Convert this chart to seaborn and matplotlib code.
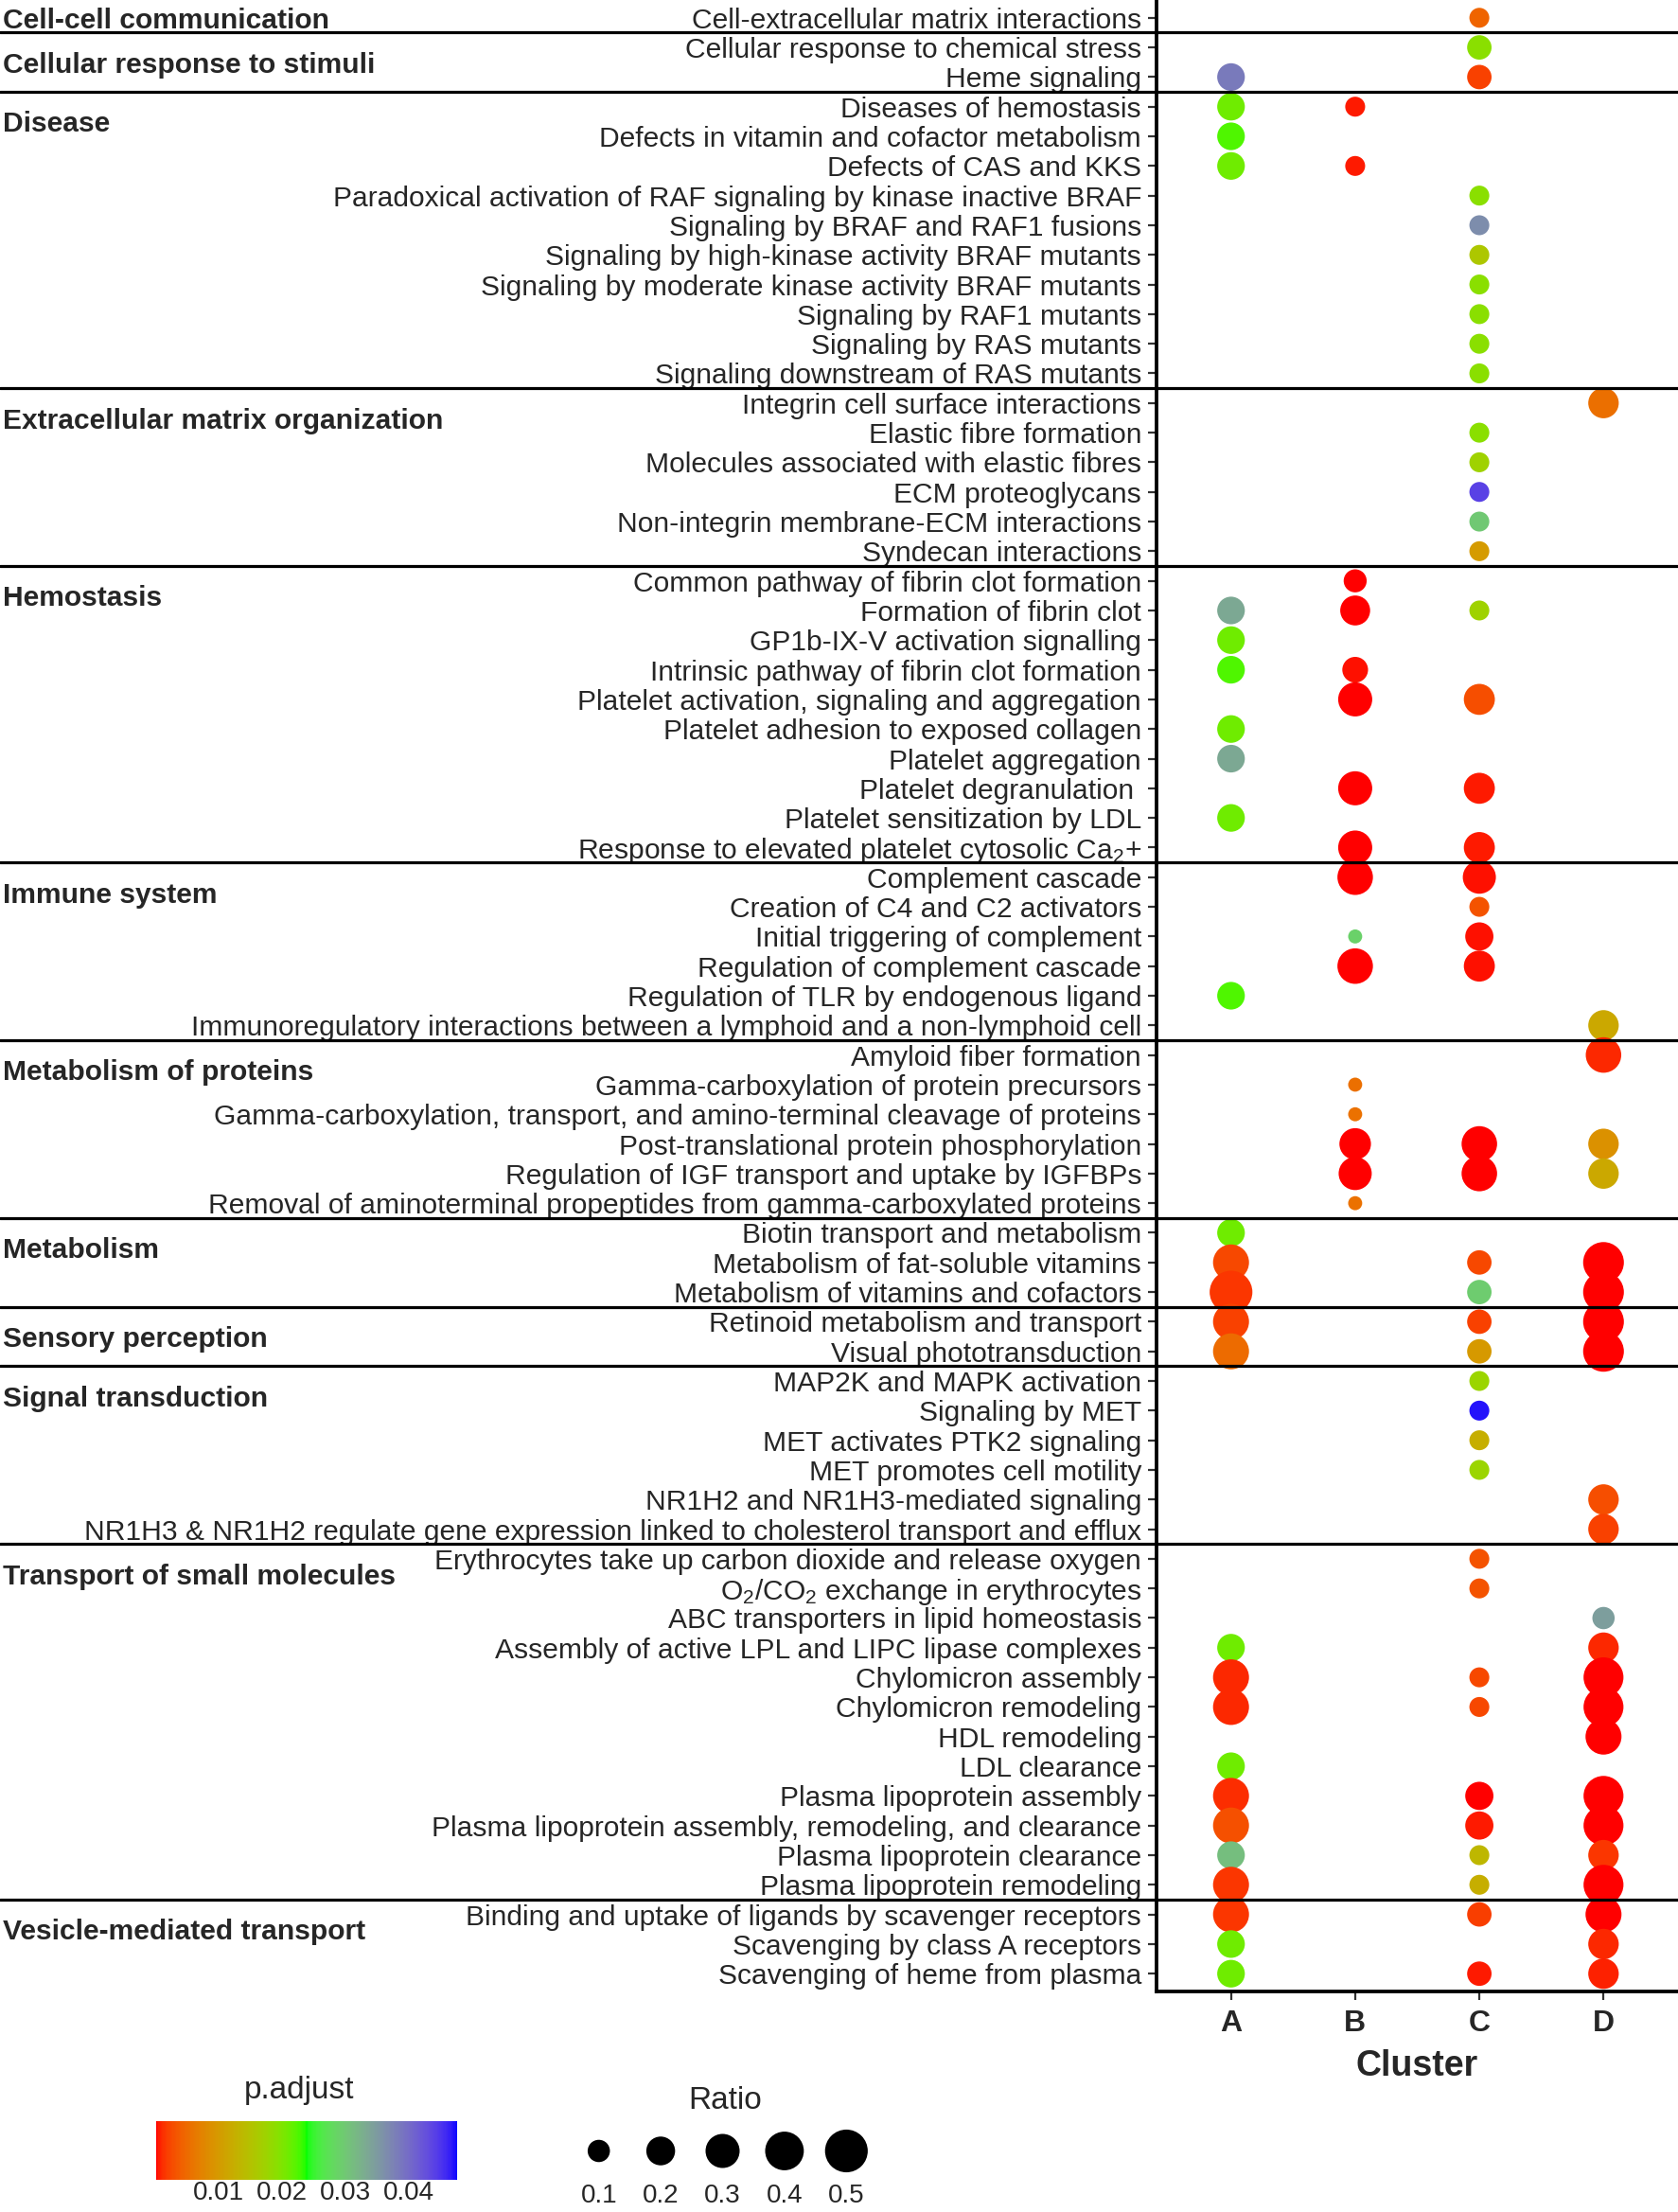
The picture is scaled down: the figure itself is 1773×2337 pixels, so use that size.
import numpy as np
import pandas as pd
import matplotlib
matplotlib.use("Agg")
import matplotlib.pyplot as plt
import seaborn as sns
from matplotlib.colors import ListedColormap, Normalize
from matplotlib.transforms import blended_transform_factory

# Reactome groups (top to bottom) and how many pathways each one holds
groups = ["Cell-cell communication", "Cellular response to stimuli", "Disease",
          "Extracellular matrix organization", "Hemostasis", "Immune system",
          "Metabolism of proteins", "Metabolism", "Sensory perception",
          "Signal transduction", "Transport of small molecules", "Vesicle-mediated transport"]
group_sizes = [1, 2, 10, 6, 10, 6, 6, 3, 2, 6, 12, 3]

pathways = [
    "Cell-extracellular matrix interactions",
    "Cellular response to chemical stress", "Heme signaling",
    "Diseases of hemostasis", "Defects in vitamin and cofactor metabolism", "Defects of CAS and KKS",
    "Paradoxical activation of RAF signaling by kinase inactive BRAF",
    "Signaling by BRAF and RAF1 fusions", "Signaling by high-kinase activity BRAF mutants",
    "Signaling by moderate kinase activity BRAF mutants", "Signaling by RAF1 mutants",
    "Signaling by RAS mutants", "Signaling downstream of RAS mutants",
    "Integrin cell surface interactions", "Elastic fibre formation",
    "Molecules associated with elastic fibres", "ECM proteoglycans",
    "Non-integrin membrane-ECM interactions", "Syndecan interactions",
    "Common pathway of fibrin clot formation", "Formation of fibrin clot",
    "GP1b-IX-V activation signalling", "Intrinsic pathway of fibrin clot formation",
    "Platelet activation, signaling and aggregation", "Platelet adhesion to exposed collagen",
    "Platelet aggregation", "Platelet degranulation ", "Platelet sensitization by LDL",
    "Response to elevated platelet cytosolic Ca$_2$+",
    "Complement cascade", "Creation of C4 and C2 activators", "Initial triggering of complement",
    "Regulation of complement cascade", "Regulation of TLR by endogenous ligand",
    "Immunoregulatory interactions between a lymphoid and a non-lymphoid cell",
    "Amyloid fiber formation", "Gamma-carboxylation of protein precursors",
    "Gamma-carboxylation, transport, and amino-terminal cleavage of proteins",
    "Post-translational protein phosphorylation",
    "Regulation of IGF transport and uptake by IGFBPs",
    "Removal of aminoterminal propeptides from gamma-carboxylated proteins",
    "Biotin transport and metabolism", "Metabolism of fat-soluble vitamins",
    "Metabolism of vitamins and cofactors",
    "Retinoid metabolism and transport", "Visual phototransduction",
    "MAP2K and MAPK activation", "Signaling by MET", "MET activates PTK2 signaling",
    "MET promotes cell motility", "NR1H2 and NR1H3-mediated signaling",
    "NR1H3 & NR1H2 regulate gene expression linked to cholesterol transport and efflux",
    "Erythrocytes take up carbon dioxide and release oxygen",
    "O$_2$/CO$_2$ exchange in erythrocytes", "ABC transporters in lipid homeostasis",
    "Assembly of active LPL and LIPC lipase complexes", "Chylomicron assembly",
    "Chylomicron remodeling", "HDL remodeling", "LDL clearance", "Plasma lipoprotein assembly",
    "Plasma lipoprotein assembly, remodeling, and clearance", "Plasma lipoprotein clearance",
    "Plasma lipoprotein remodeling",
    "Binding and uptake of ligands by scavenger receptors", "Scavenging by class A receptors",
    "Scavenging of heme from plasma",
]

clusters = ["A", "B", "C", "D"]
_ = None

# p.adjust per pathway, one list per cluster (None = not enriched)
padj_A = [_,
          _, 0.0384,
          0.021, 0.0224, 0.021, _, _, _, _, _, _, _,
          _, _, _, _, _, _,
          _, 0.0334, 0.021, 0.0224, _, 0.021, 0.0334, _, 0.021, _,
          _, _, _, _, 0.0224, _,
          _, _, _, _, _, _,
          0.021, 0.0025, 0.0015,
          0.002, 0.005,
          _, _, _, _, _, _,
          _, _, _, 0.021, 0.001, 0.001, _, 0.021, 0.0012, 0.003, 0.031, 0.0015,
          0.0015, 0.021, 0.021]
padj_B = [_,
          _, _,
          0.0006, _, 0.0006, _, _, _, _, _, _, _,
          _, _, _, _, _, _,
          0.0002, 0.0002, _, 0.0003, 0.0002, _, _, 0.0002, _, 0.0002,
          0.0002, _, 0.029, 0.0002, _, _,
          _, 0.0053, 0.0055, 0.0002, 0.0002, 0.0055,
          _, _, _,
          _, _,
          _, _, _, _, _, _,
          _, _, _, _, _, _, _, _, _, _, _, _,
          _, _, _]
padj_C = [0.0044,
          0.0191, 0.002,
          _, _, _, 0.0191, 0.0363, 0.0158, 0.0191, 0.0191, 0.0191, 0.0191,
          _, 0.0191, 0.0172, 0.044, 0.0298, 0.010,
          _, 0.0172, _, _, 0.0028, _, _, 0.0006, _, 0.0006,
          0.0003, 0.0032, 0.0003, 0.0004, _, _,
          _, _, _, 0.0002, 0.0002, _,
          _, 0.0025, 0.0296,
          0.002, 0.0098,
          0.0177, 0.0469, 0.0125, 0.0177, _, _,
          0.0032, 0.0032, _, _, 0.0025, 0.0025, _, _, 0.0002, 0.0006, 0.0135, 0.0125,
          0.0018, _, 0.0006]
padj_D = [_,
          _, _,
          _, _, _, _, _, _, _, _, _, _,
          0.0053, _, _, _, _, _,
          _, _, _, _, _, _, _, _, _, _,
          _, _, _, _, _, 0.0117,
          0.001, _, _, 0.009, 0.0117, _,
          _, 0.0002, 0.0002,
          0.0002, 0.0002,
          _, _, _, _, 0.0028, 0.002,
          _, _, 0.0346, 0.001, 0.0002, 0.0002, 0.0002, _, 0.0002, 0.0002, 0.0015, 0.0002,
          0.0002, 0.001, 0.0008]

# gene ratio per pathway
ratio_A = [_,
           _, 0.18,
           0.18, 0.18, 0.18, _, _, _, _, _, _, _,
           _, _, _, _, _, _,
           _, 0.18, 0.18, 0.18, _, 0.18, 0.18, _, 0.18, _,
           _, _, _, _, 0.18, _,
           _, _, _, _, _, _,
           0.18, 0.34, 0.50,
           0.34, 0.34,
           _, _, _, _, _, _,
           _, _, _, 0.18, 0.34, 0.34, _, 0.18, 0.34, 0.34, 0.18, 0.34,
           0.34, 0.18, 0.18]
ratio_B = [_,
           _, _,
           0.07, _, 0.07, _, _, _, _, _, _, _,
           _, _, _, _, _, _,
           0.11, 0.22, _, 0.15, 0.30, _, _, 0.30, _, 0.30,
           0.33, _, 0.01, 0.33, _, _,
           _, 0.01, 0.01, 0.25, 0.28, 0.01,
           _, _, _,
           _, _,
           _, _, _, _, _, _,
           _, _, _, _, _, _, _, _, _, _, _, _,
           _, _, _]
ratio_C = [0.07,
           0.13, 0.13,
           _, _, _, 0.07, 0.07, 0.07, 0.07, 0.07, 0.07, 0.07,
           _, 0.07, 0.07, 0.07, 0.07, 0.07,
           _, 0.07, _, _, 0.24, _, _, 0.24, _, 0.24,
           0.28, 0.07, 0.19, 0.24, _, _,
           _, _, _, 0.33, 0.33, _,
           _, 0.13, 0.13,
           0.13, 0.13,
           0.07, 0.07, 0.07, 0.07, _, _,
           0.07, 0.07, _, _, 0.07, 0.07, _, _, 0.19, 0.19, 0.07, 0.07,
           0.13, _, 0.13]
ratio_D = [_,
           _, _,
           _, _, _, _, _, _, _, _, _, _,
           0.23, _, _, _, _, _,
           _, _, _, _, _, _, _, _, _, _,
           _, _, _, _, _, 0.23,
           0.33, _, _, 0.23, 0.23, _,
           _, 0.45, 0.45,
           0.45, 0.45,
           _, _, _, _, 0.23, 0.23,
           _, _, 0.10, 0.23, 0.43, 0.43, 0.34, _, 0.43, 0.43, 0.23, 0.43,
           0.34, 0.23, 0.23]

padj_ticks = [0.01, 0.02, 0.03, 0.04]
ratio_breaks = [0.1, 0.2, 0.3, 0.4, 0.5]

# long table for seaborn
recs = []
for cl, pl, rl in zip(clusters, [padj_A, padj_B, padj_C, padj_D], [ratio_A, ratio_B, ratio_C, ratio_D]):
    for term, p, r in zip(pathways, pl, rl):
        if p is not None:
            recs.append({"Description": term, "Cluster": cl, "p.adjust": p, "Ratio": r})
df = pd.DataFrame(recs)
df["Description"] = pd.Categorical(df["Description"], categories=pathways)
df["Cluster"] = pd.Categorical(df["Cluster"], categories=clusters)


# red -> green -> blue gradient interpolated in CIE Lab (like ggplot's gradientn)
M = np.array([[0.4124564, 0.3575761, 0.1804375],
              [0.2126729, 0.7151522, 0.0721750],
              [0.0193339, 0.1191920, 0.9503041]])
WHITE = np.array([0.95047, 1.0, 1.08883])


def to_lab(rgb):
    rgb = np.asarray(rgb, float)
    lin = np.where(rgb <= 0.04045, rgb / 12.92, ((rgb + 0.055) / 1.055) ** 2.4)
    xyz = lin @ M.T / WHITE
    f = np.where(xyz > (6 / 29) ** 3, np.cbrt(xyz), xyz / (3 * (6 / 29) ** 2) + 4 / 29)
    return np.stack([116 * f[..., 1] - 16, 500 * (f[..., 0] - f[..., 1]),
                     200 * (f[..., 1] - f[..., 2])], -1)


def from_lab(lab):
    fy = (lab[..., 0] + 16) / 116
    f = np.stack([fy + lab[..., 1] / 500, fy, fy - lab[..., 2] / 200], -1)
    xyz = np.where(f > 6 / 29, f ** 3, 3 * (6 / 29) ** 2 * (f - 4 / 29)) * WHITE
    lin = np.clip(xyz @ np.linalg.inv(M).T, 0, 1)
    rgb = np.where(lin <= 0.0031308, 12.92 * lin, 1.055 * lin ** (1 / 2.4) - 0.055)
    return np.clip(rgb, 0, 1)


stops = to_lab([[1, 0, 0], [0, 1, 0], [0, 0, 1]])
t = np.linspace(0, 1, 256)
lab = np.stack([np.interp(t, [0, 0.5, 1], stops[:, k]) for k in range(3)], -1)
cmap = ListedColormap(from_lab(lab))
norm = Normalize(vmin=0.0001, vmax=0.0476)

size_range = (95, 1057)   # marker area (pt^2) for Ratio 0 .. 0.5
size_norm = (0, 0.5)

sns.set_theme(style="white")
plt.rcParams["font.family"] = ["Liberation Sans", "DejaVu Sans"]
plt.rcParams["mathtext.fontset"] = "custom"
plt.rcParams["mathtext.rm"] = "Liberation Sans"
plt.rcParams["mathtext.default"] = "regular"

W, H = 1773, 2337
fig = plt.figure(figsize=(W / 100, H / 100), dpi=100)
ax = fig.add_axes([1222 / W, 1 - 2104 / H, (W - 1222) / W, 2104 / H])

sns.scatterplot(data=df, x="Cluster", y="Description", hue="p.adjust", size="Ratio",
                palette=cmap, hue_norm=norm, sizes=size_range, size_norm=size_norm,
                linewidth=0, alpha=1, legend=False, ax=ax)

ax.set_xlim(-0.6, len(clusters) - 0.4)
ax.set_ylim(len(pathways) - 0.4, -0.6)
ax.set_ylabel("")
ax.set_xlabel("Cluster", fontsize=27, fontweight="bold", labelpad=9)
for s in ["top", "right"]:
    ax.spines[s].set_visible(False)
for s in ["left", "bottom"]:
    ax.spines[s].set_color("black")
    ax.spines[s].set_linewidth(2.7)
ax.tick_params(axis="y", length=6.5, width=1.6, color="#333333", pad=5, labelsize=21.6, left=True)
ax.tick_params(axis="x", length=6.5, width=1.6, color="#333333", pad=7, labelsize=23, bottom=True)
for lab_ in ax.get_xticklabels():
    lab_.set_fontweight("bold")

# group separators and group names across the whole figure width
tr = blended_transform_factory(ax.transAxes, ax.transData)
x_left = -1222 / (W - 1222)
start = 0
for name, n in zip(groups, group_sizes):
    if start > 0:
        ax.plot([x_left, 1], [start - 0.5, start - 0.5], color="black", lw=2.3,
                transform=tr, clip_on=False)
    ypos = (start + min(start + 1, start + n - 1)) / 2 + 0.1
    ax.text(x_left + 3 / (W - 1222), ypos, name, transform=tr, ha="left", va="center",
            fontsize=21.6, fontweight="bold")
    start += n

# p.adjust colourbar
cax = fig.add_axes([165 / W, 1 - 2303 / H, 318 / W, 62 / H])
sm = plt.cm.ScalarMappable(cmap=cmap, norm=norm)
cb = fig.colorbar(sm, cax=cax, orientation="horizontal", ticks=padj_ticks)
cb.outline.set_visible(False)
cb.ax.set_xticklabels([f"{v:.2f}" for v in padj_ticks])
cb.ax.tick_params(axis="x", direction="in", length=8, width=1.5, color="white",
                  top=True, bottom=True, labelsize=20, pad=1)
fig.text(316 / W, 1 - 2209 / H, "p.adjust", ha="center", va="center", fontsize=24)

# Ratio size legend
lax = fig.add_axes([600 / W, 1 - 2300 / H, 327 / W, 55 / H])
sns.scatterplot(x=list(range(len(ratio_breaks))), y=[0] * len(ratio_breaks), size=ratio_breaks,
                sizes=size_range, size_norm=size_norm, color="black", linewidth=0,
                legend=False, ax=lax)
lax.set_xlim(-0.5, len(ratio_breaks) - 0.5)
lax.set_ylim(-1, 1)
lax.axis("off")
for i, r in enumerate(ratio_breaks):
    fig.text((600 + 327 * (i + 0.5) / len(ratio_breaks)) / W, 1 - 2320 / H, f"{r:.1f}",
             ha="center", va="center", fontsize=20)
fig.text(766 / W, 1 - 2219 / H, "Ratio", ha="center", va="center", fontsize=24)

fig.savefig("out.png", dpi=100)
